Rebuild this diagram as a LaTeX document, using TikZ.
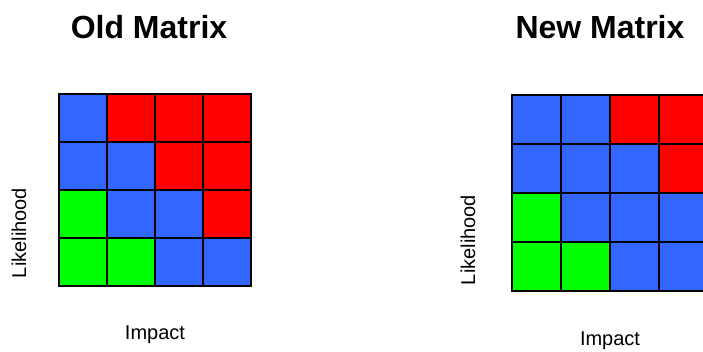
\documentclass[tikz,border=0pt]{standalone}
\usepackage{fontspec}
\setmainfont{Liberation Sans}
\definecolor{blue1}{RGB}{51, 102, 255}
\definecolor{red1}{RGB}{255, 0, 0}
\definecolor{green1}{RGB}{0, 255, 0}
\usetikzlibrary{positioning}

\begin{document}
\begin{tikzpicture}[x=1pt, y=1pt,
  cell/.style={draw=black, line width=1.5pt, minimum size=48pt, inner sep=0pt, outer sep=0pt},
  title/.style={font=\fontsize{32}{38}\selectfont\bfseries, anchor=base},
  axislabel/.style={font=\fontsize{20}{24}\selectfont}]
  \useasboundingbox (0,0) rectangle (703,351);
  \clip (0,0) rectangle (703,351);

  % old matrix, rows from the top
  \foreach \c [count=\i from 0] in {blue1,red1,red1,red1, blue1,blue1,red1,red1,
      green1,blue1,blue1,red1, green1,green1,blue1,blue1} {
    \pgfmathtruncatemacro{\r}{\i/4}
    \pgfmathtruncatemacro{\k}{mod(\i,4)}
    \node[cell, fill=\c] (old-\r-\k) at ({83+48*\k}, {233-48*\r}) {};
  }

  % new matrix
  \foreach \c [count=\i from 0] in {blue1,blue1,red1,red1, blue1,blue1,blue1,red1,
      green1,blue1,blue1,blue1, green1,green1,blue1,blue1} {
    \pgfmathtruncatemacro{\r}{\i/4}
    \pgfmathtruncatemacro{\k}{mod(\i,4)}
    \node[cell, minimum size=49pt, fill=\c] (new-\r-\k) at ({536.5+49*\k}, {231.5-49*\r}) {};
  }

  \node[title] (old-title) at (149,312) {Old Matrix};
  \node[title] (new-title) at (600,312) {New Matrix};

  \node[axislabel, rotate=90] (old-y) at (19,118) {Likelihood};
  \node[axislabel, anchor=base] (old-x) at (155,12) {Impact};
  \node[axislabel, rotate=90] (new-y) at (468,111) {Likelihood};
  \node[axislabel, anchor=base] (new-x) at (610,6) {Impact};
\end{tikzpicture}
\end{document}
